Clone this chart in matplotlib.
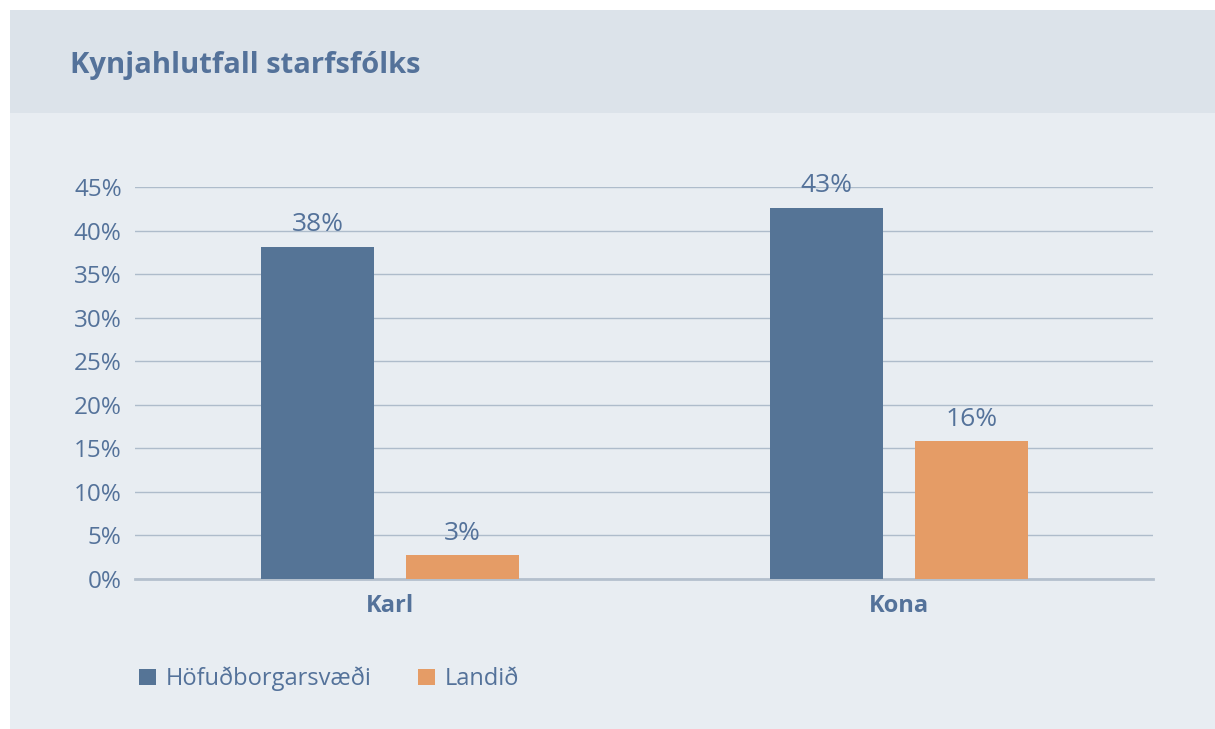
import matplotlib
matplotlib.use("Agg")
import matplotlib.pyplot as plt
from matplotlib.patches import Rectangle
import numpy as np

plt.rcParams['font.family'] = ['Open Sans', 'DejaVu Sans']

flokkar = ['Karl', 'Kona']
hofudborg = [38.1, 42.6]
landid = [2.7, 15.8]
merki_hofud = ['38%', '43%']
merki_land = ['3%', '16%']
y_ticks = [0, 5, 10, 15, 20, 25, 30, 35, 40, 45]

textalitur = '#54729a'
blar = '#557496'
appels = '#e59c66'

fig = plt.figure(figsize=(12.15, 7.29), dpi=100)
fig.patch.set_facecolor('white')
# panel backgrounds
fig.patches.append(Rectangle((10/1215, 0), 1 - 10/1215, 1 - 10/729, transform=fig.transFigure,
                             facecolor='#e8edf2', edgecolor='none', zorder=-2))
fig.patches.append(Rectangle((10/1215, 1 - 113/729), 1 - 10/1215, 103/729, transform=fig.transFigure,
                             facecolor='#dce3ea', edgecolor='none', zorder=-2))
fig.text(70/1215, 1 - 65/729, 'Kynjahlutfall starfsfólks', fontsize=21, fontweight='bold',
         color=textalitur, va='center', ha='left')

ax = fig.add_axes([135/1215, 1 - 579/729, 1018/1215, 392/729])
ax.set_zorder(2)
ax.set_facecolor('none')
x = np.arange(len(flokkar))
w = 0.222
b1 = ax.bar(x - 0.141, hofudborg, w, color=blar, zorder=3, label='Höfuðborgarsvæði')
b2 = ax.bar(x + 0.143, landid, w, color=appels, zorder=3, label='Landið')

for bars, lbls in ((b1, merki_hofud), (b2, merki_land)):
    for r, t in zip(bars, lbls):
        ax.annotate(t, (r.get_x() + r.get_width()/2, r.get_height()), xytext=(0, 16),
                    textcoords='offset points', ha='center', va='center',
                    fontsize=19, color=textalitur)

ax.set_xlim(-0.5, 1.5)
ax.set_ylim(0, 45)
ax.set_yticks(y_ticks)
ax.set_yticklabels([f'{v}%' for v in y_ticks])
ax.set_xticks(x)
ax.set_xticklabels(flokkar, fontweight='bold')
ax.tick_params(axis='y', length=0, pad=9.5, labelsize=17.5, labelcolor=textalitur)
ax.tick_params(axis='x', length=0, pad=11, labelsize=17, labelcolor=textalitur)
ax.yaxis.grid(True, color='#aebccb', linewidth=1, zorder=1)
ax.set_axisbelow(True)
for s in ['top', 'right', 'left']:
    ax.spines[s].set_visible(False)
ax.spines['bottom'].set_color('#b4c0cd')
ax.spines['bottom'].set_linewidth(2)

leg = fig.legend(handles=[b1, b2], loc='center left', bbox_to_anchor=(118/1215, 1 - 679/729),
                 ncol=2, frameon=False, fontsize=17, handlelength=0.72, handleheight=0.72,
                 columnspacing=1.95, handletextpad=0.42)
for t in leg.get_texts():
    t.set_color(textalitur)

fig.savefig('out.png', dpi=100)
